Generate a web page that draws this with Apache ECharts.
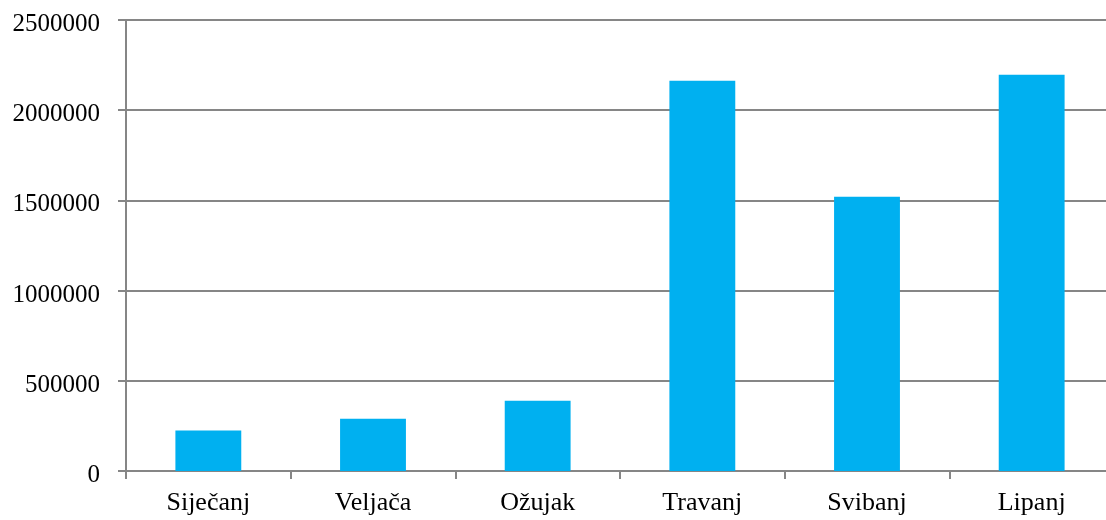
<!DOCTYPE html>
<html>
<head>
<meta charset="utf-8">
<script src="https://cdn.jsdelivr.net/npm/echarts@6/dist/echarts.min.js"></script>
<style>
html,body{margin:0;padding:0;background:#fff;overflow:hidden;width:1106px;height:520px;}
#chart{width:1124px;height:520px;}
</style>
</head>
<body>
<div id="chart"></div>
<script>
const categories = ["Siječanj", "Veljača", "Ožujak", "Travanj", "Svibanj", "Lipanj"];
const values = [224000, 290000, 390000, 2163000, 1520000, 2197000];
const yTicks = { min: 0, max: 2500000, interval: 500000 };

const axisGray = "#868686";
const font = "'Liberation Serif', 'Times New Roman', serif";

const chart = echarts.init(document.getElementById("chart"), null, { renderer: "canvas" });
chart.setOption({
  animation: false,
  backgroundColor: "#ffffff",
  grid: { left: 126, right: 10, top: 20, bottom: 49, containLabel: false },
  xAxis: {
    type: "category",
    data: categories,
    axisLine: { show: true, lineStyle: { color: axisGray, width: 2 } },
    axisTick: { show: true, length: 8, interval: 0, lineStyle: { color: axisGray, width: 2 } },
    axisLabel: { color: "#000", fontFamily: font, fontSize: 26, margin: 19, interval: 0 },
    splitLine: { show: false }
  },
  yAxis: {
    type: "value",
    min: yTicks.min,
    max: yTicks.max,
    interval: yTicks.interval,
    axisLine: { show: true, lineStyle: { color: axisGray, width: 2 } },
    axisTick: { show: true, length: 8, lineStyle: { color: axisGray, width: 2 } },
    axisLabel: { color: "#000", fontFamily: font, fontSize: 25, margin: 26, verticalAlign: "top", lineHeight: 9, formatter: function (v) { return String(v); } },
    splitLine: { show: true, lineStyle: { color: axisGray, width: 2 } }
  },
  series: [{
    type: "bar",
    data: values,
    barCategoryGap: "60%",
    itemStyle: { color: "#00B0F0" }
  }]
});
</script>
</body>
</html>
